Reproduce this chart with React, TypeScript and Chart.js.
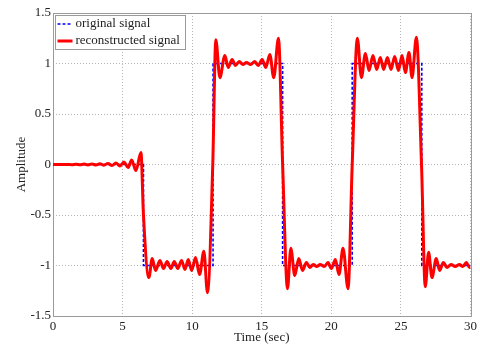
import React, { useEffect, useRef } from "react";
import { Chart, registerables } from "chart.js";

Chart.register(...registerables);

const X_TICKS = [0, 5, 10, 15, 20, 25, 30];
const Y_TICKS = [-1.5, -1, -0.5, 0, 0.5, 1, 1.5];

const ORIG_T = [0, 6.5, 6.5, 11.5, 11.5, 16.5, 16.5, 21.5, 21.5, 26.5, 26.5, 30];
const ORIG_Y = [0, 0, -1, -1, 1, 1, -1, -1, 1, 1, -1, -1];

const REC_T = [
  0, 1.0, 1.36, 1.65, 1.94, 2.23, 2.51, 2.8, 3.09, 3.37, 3.66, 3.95, 4.24, 4.52, 4.81, 5.1, 5.4, 5.65, 5.96, 6.32,
  6.5, 6.89, 7.13, 7.37, 7.68, 7.94, 8.2, 8.47, 8.71, 8.97, 9.24, 9.48, 9.72, 9.96, 10.24, 10.53, 10.84, 11.1,
  11.48, 11.7, 11.99, 12.35, 12.59, 12.87, 13.11, 13.38, 13.65, 13.9, 14.2, 14.5, 14.74, 15.03, 15.29, 15.58, 15.86, 16.2,
  16.5, 16.85, 17.09, 17.37, 17.66, 17.93, 18.21, 18.45, 18.7, 18.95, 19.2, 19.5, 19.76, 20.0, 20.29, 20.55, 20.84, 21.2,
  21.5, 21.87, 22.16, 22.45, 22.71, 22.99, 23.26, 23.52, 23.76, 24.03, 24.29, 24.55, 24.82, 25.08, 25.32, 25.58, 25.8, 26.11,
  26.48, 26.75, 26.99, 27.23, 27.54, 27.78, 28.05, 28.31, 28.6, 28.9, 29.2, 29.45, 29.7, 29.93, 30,
];
const REC_Y = [
  0, 0, -0.002, 0.003, -0.003, 0.004, -0.004, 0.005, -0.005, 0.007, -0.007, 0.01, -0.01, 0.015, -0.015, 0.025, -0.03, 0.045, -0.06, 0.12,
  -0.5, -1.12, -0.93, -1.05, -0.95, -1.03, -0.96, -1.03, -0.96, -1.03, -0.95, -1.04, -0.94, -1.05, -0.92, -1.09, -0.86, -1.27,
  0, 1.235, 0.86, 1.08, 0.96, 1.04, 0.98, 1.02, 0.99, 1.01, 0.99, 1.02, 0.98, 1.04, 0.96, 1.09, 0.86, 1.25,
  0, -1.23, -0.83, -1.1, -0.93, -1.05, -0.97, -1.02, -0.99, -1.01, -0.99, -1.01, -0.97, -1.03, -0.94, -1.09, -0.83, -1.23,
  0, 1.25, 0.86, 1.1, 0.93, 1.08, 0.94, 1.06, 0.94, 1.06, 0.94, 1.07, 0.93, 1.08, 0.91, 1.11, 0.86, 1.26,
  0, -1.21, -0.87, -1.12, -0.93, -1.05, -0.97, -1.02, -0.99, -1.01, -0.99, -1.01, -0.97, -1.02, -1.02,
];

const LEGEND_LABELS = ["original signal", "reconstructed signal"];
const FONT = "'Liberation Serif', 'Times New Roman', serif";

const framePlugin = {
  id: "frame",
  beforeDatasetsDraw(chart: any) {
    const { ctx, chartArea: a } = chart;
    ctx.save();
    ctx.strokeStyle = "#9a9a9a";
    ctx.lineWidth = 1;
    ctx.strokeRect(Math.round(a.left) + 0.5, Math.round(a.top) + 0.5, Math.round(a.right - a.left), Math.round(a.bottom - a.top));
    ctx.restore();
  },
  afterDatasetsDraw(chart: any) {
    const { ctx, chartArea: a } = chart;
    const x0 = a.left + 1.5;
    const y0 = a.top + 2;
    const w = 130;
    const h = 34;
    ctx.save();
    ctx.fillStyle = "#ffffff";
    ctx.fillRect(x0, y0, w, h);
    ctx.strokeStyle = "#9a9a9a";
    ctx.lineWidth = 1;
    ctx.strokeRect(Math.round(x0) + 0.5, Math.round(y0) + 0.5, w, h);
    ctx.strokeStyle = "#0000ff";
    ctx.lineWidth = 1.5;
    ctx.setLineDash([3, 2]);
    ctx.beginPath();
    ctx.moveTo(x0 + 3, y0 + 9);
    ctx.lineTo(x0 + 18, y0 + 9);
    ctx.stroke();
    ctx.setLineDash([]);
    ctx.strokeStyle = "#ff0000";
    ctx.lineWidth = 3;
    ctx.beginPath();
    ctx.moveTo(x0 + 3, y0 + 26);
    ctx.lineTo(x0 + 18, y0 + 26);
    ctx.stroke();
    ctx.fillStyle = "#222";
    ctx.font = `13px ${FONT}`;
    ctx.textBaseline = "middle";
    ctx.textAlign = "left";
    ctx.fillText(LEGEND_LABELS[0], x0 + 21, y0 + 9);
    ctx.fillText(LEGEND_LABELS[1], x0 + 21, y0 + 26);
    ctx.restore();
  },
};

export default function App() {
  const ref = useRef<HTMLCanvasElement | null>(null);
  useEffect(() => {
    if (!ref.current) return;
    const orig = ORIG_T.map((t, i) => ({ x: t, y: ORIG_Y[i] }));
    const rec = REC_T.map((t, i) => ({ x: t, y: REC_Y[i] }));
    const chart = new Chart(ref.current, {
      type: "line",
      data: {
        datasets: [
          {
            label: LEGEND_LABELS[0],
            data: orig,
            borderColor: "#0000ff",
            borderWidth: 1.6,
            borderDash: [3, 2],
            pointRadius: 0,
            tension: 0,
            order: 2,
          },
          {
            label: LEGEND_LABELS[1],
            data: rec,
            borderColor: "#ff0000",
            borderWidth: 3,
            pointRadius: 0,
            cubicInterpolationMode: "monotone",
            order: 1,
          },
        ],
      },
      options: {
        animation: false,
        responsive: false,
        layout: { padding: { top: 13, right: 9, left: 0, bottom: 0 } },
        plugins: { legend: { display: false }, tooltip: { enabled: false } },
        scales: {
          x: {
            type: "linear",
            min: 0,
            max: 30,
            afterBuildTicks: (s: any) => {
              s.ticks = X_TICKS.map((v) => ({ value: v }));
            },
            afterFit: (s: any) => {
              s.height = 31;
            },
            grid: { color: "#b5b5b5", lineWidth: 1, drawTicks: false },
            border: { display: false, dash: [1, 2] },
            ticks: {
              color: "#222",
              padding: 3,
              font: { family: FONT, size: 13 },
              maxRotation: 0,
              callback: (v: any) => String(v),
            },
            title: { display: true, text: "Time (sec)", color: "#222", font: { family: FONT, size: 13 }, padding: { top: 0, bottom: 1.5 } },
          },
          y: {
            type: "linear",
            min: -1.5,
            max: 1.5,
            afterBuildTicks: (s: any) => {
              s.ticks = Y_TICKS.map((v) => ({ value: v }));
            },
            afterFit: (s: any) => {
              s.width = 53;
            },
            grid: { color: "#b5b5b5", lineWidth: 1, drawTicks: false },
            border: { display: false, dash: [1, 2] },
            ticks: {
              color: "#222",
              padding: 2,
              font: { family: FONT, size: 13 },
              callback: (v: any) => String(v),
            },
            title: { display: true, text: "Amplitude", color: "#222", font: { family: FONT, size: 13 }, padding: { top: 14, bottom: 0 } },
          },
        },
      },
      plugins: [framePlugin],
    });
    return () => chart.destroy();
  }, []);
  return (
    <div style={{ position: "fixed", left: 0, top: 0, width: 480, height: 347, background: "#fff" }}>
      <canvas ref={ref} width={480} height={347} />
    </div>
  );
}
